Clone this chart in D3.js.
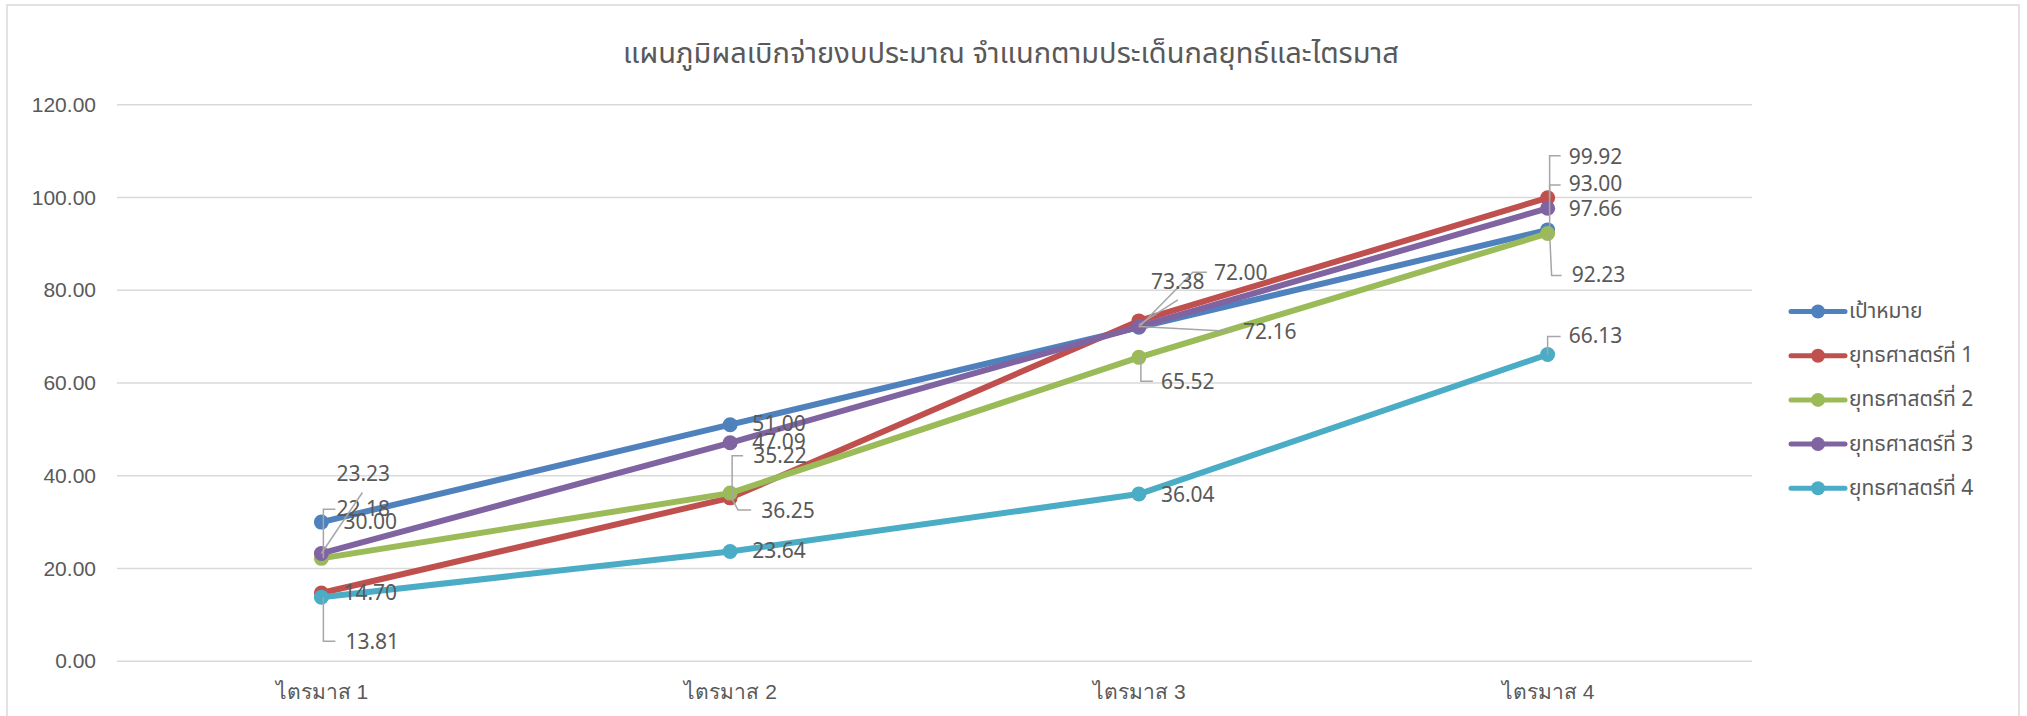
<!DOCTYPE html>
<html>
  <head>
    <meta charset="utf-8">
    <script src="https://d3js.org/d3.v7.min.js"></script>
    <style>
      body {
        margin: 0;
        background-color: white;
        font-family: Tahoma, "Noto Sans Thai", "Noto Sans", sans-serif;
      }
      text {
        fill: #595959;
      }
    </style>
  </head>
  <body>
    <div id="chart"></div>
    <script>
      // categories + series values
      var quarters = ["ไตรมาส 1", "ไตรมาส 2", "ไตรมาส 3", "ไตรมาส 4"];
      var seriesNames = ["เป้าหมาย", "ยุทธศาสตร์ที่ 1", "ยุทธศาสตร์ที่ 2", "ยุทธศาสตร์ที่ 3", "ยุทธศาสตร์ที่ 4"];
      var target = [30.00, 51.00, 72.00, 93.00];
      var strategy1 = [14.70, 35.22, 73.38, 99.92];
      var strategy2 = [22.18, 36.25, 65.52, 92.23];
      var strategy3 = [23.23, 47.09, 72.16, 97.66];
      var strategy4 = [13.81, 23.64, 36.04, 66.13];
      var yTicks = [0, 20, 40, 60, 80, 100, 120];
      var title = "แผนภูมิผลเบิกจ่ายงบประมาณ จำแนกตามประเด็นกลยุทธ์และไตรมาส";

      var colors = ["#4f81bd", "#c0504d", "#9bbb59", "#8064a2", "#4bacc6"];
      var allSeries = [target, strategy1, strategy2, strategy3, strategy4];

      // label placement, offsets (px) from the point: text left/centre, leader polyline
      // (moved labels like in the excel original)
      var labelPlace = [
        [ {dx: 22, dy: 0}, {dx: 22, dy: 0},
          {dx: 75, dy: -54, leader: [[0,0],[54,-55],[68,-55]]},
          {dx: 21, dy: -45, leader: [[2,0],[2,-45],[13,-45]]} ],
        [ {dx: 22, dy: 0},
          {dx: 23, dy: -41, leader: [[2,0],[2,-42],[13,-42]]},
          {dx: 12, dy: -38, leader: [[0,4],[39,-21]]},
          {dx: 21, dy: -40, leader: [[2,0],[2,-42],[13,-42]]} ],
        [ {dx: 15, dy: -49, leader: [[2,0],[2,-49],[14,-49]]},
          {dx: 31, dy: 18, leader: [[2,0],[2,6],[8,17],[21,17]]},
          {dx: 22, dy: 25, leader: [[2,0],[2,24],[14,24]]},
          {dx: 24, dy: 42, leader: [[2,0],[4,42],[14,42]]} ],
        [ {dx: 15, dy: -79, leader: [[0,0],[41,-61]]},
          {dx: 22, dy: 0},
          {dx: 104, dy: 6, leader: [[0,0],[94,5]]},
          {dx: 21, dy: 1} ],
        [ {dx: 24, dy: 45, leader: [[2,0],[2,44],[14,44]]},
          {dx: 22, dy: 0}, {dx: 22, dy: 1},
          {dx: 21, dy: -18, leader: [[0,0],[0,-18],[13,-18]]} ]
      ];

      var W = 2027, H = 716;
      var svg = d3.select("#chart").append("svg")
        .attr("width", W)
        .attr("height", H);

      // chart area frame
      svg.append("rect")
        .attr("x", 7).attr("y", 5)
        .attr("width", 2012).attr("height", 730)
        .attr("fill", "white")
        .attr("stroke", "#d9d9d9")
        .attr("stroke-width", 1.5);

      var x = d3.scalePoint().domain(quarters).range([117, 1752]).padding(0.5);
      var y = d3.scaleLinear().domain([0, 120]).range([661.2, 104.7]);

      // title
      svg.append("text")
        .attr("x", 1011).attr("y", 54)
        .attr("text-anchor", "middle")
        .attr("dominant-baseline", "central")
        .style("font-size", "29px")
        .text(title);

      // grid
      svg.append("g").selectAll("line")
        .data(yTicks)
        .enter().append("line")
          .attr("x1", 117).attr("x2", 1752)
          .attr("y1", function(d) { return y(d); })
          .attr("y2", function(d) { return y(d); })
          .attr("stroke", "#d9d9d9")
          .attr("stroke-width", 1.5);

      // y axis (labels only)
      var yAxis = d3.axisLeft(y).tickValues(yTicks).tickFormat(d3.format(".2f")).tickSize(0).tickPadding(0);
      var yg = svg.append("g").attr("transform", "translate(96,0)").call(yAxis);
      yg.select(".domain").remove();
      yg.selectAll("text").style("font-size", "21px").style("font-family", null).attr("fill", "#595959");

      // x axis (labels only)
      var xAxis = d3.axisBottom(x).tickSize(0).tickPadding(0);
      var xg = svg.append("g").attr("transform", "translate(0,692)").call(xAxis);
      xg.select(".domain").remove();
      xg.selectAll("text").style("font-size", "21px").style("font-family", null)
        .attr("fill", "#595959").attr("dy", "0.35em");

      var line = d3.line()
        .x(function(d, i) { return x(quarters[i]); })
        .y(function(d) { return y(d); });

      allSeries.forEach(function(vals, s) {
        var g = svg.append("g");
        g.append("path")
          .datum(vals)
          .attr("d", line)
          .attr("fill", "none")
          .attr("stroke", colors[s])
          .attr("stroke-width", 6)
          .attr("stroke-linejoin", "round")
          .attr("stroke-linecap", "round");
        g.selectAll("circle")
          .data(vals)
          .enter().append("circle")
            .attr("cx", function(d, i) { return x(quarters[i]); })
            .attr("cy", function(d) { return y(d); })
            .attr("r", 7.5)
            .attr("fill", colors[s]);
      });

      // data labels + leader lines
      var leader = d3.line();
      allSeries.forEach(function(vals, s) {
        vals.forEach(function(v, i) {
          var px = x(quarters[i]), py = y(v);
          var p = labelPlace[s][i];
          if (p.leader) {
            svg.append("path")
              .attr("d", leader(p.leader.map(function(q) { return [px + q[0], py + q[1]]; })))
              .attr("fill", "none")
              .attr("stroke", "#a6a6a6")
              .attr("stroke-width", 1.5);
          }
          svg.append("text")
            .attr("x", px + p.dx)
            .attr("y", py + p.dy)
            .attr("dominant-baseline", "central")
            .style("font-size", "21px")
            .text(d3.format(".2f")(v));
        });
      });

      // legend
      var legend = svg.append("g").selectAll("g")
        .data(seriesNames)
        .enter().append("g")
          .attr("transform", function(d, i) { return "translate(1791," + (311.5 + i * 44.2) + ")"; });
      legend.append("line")
        .attr("x1", 0).attr("x2", 54)
        .attr("stroke", function(d, i) { return colors[i]; })
        .attr("stroke-width", 5)
        .attr("stroke-linecap", "round");
      legend.append("circle")
        .attr("cx", 27).attr("r", 7)
        .attr("fill", function(d, i) { return colors[i]; });
      legend.append("text")
        .attr("x", 58)
        .attr("dominant-baseline", "central")
        .style("font-size", "21px")
        .text(function(d) { return d; });
    </script>
  </body>
</html>
